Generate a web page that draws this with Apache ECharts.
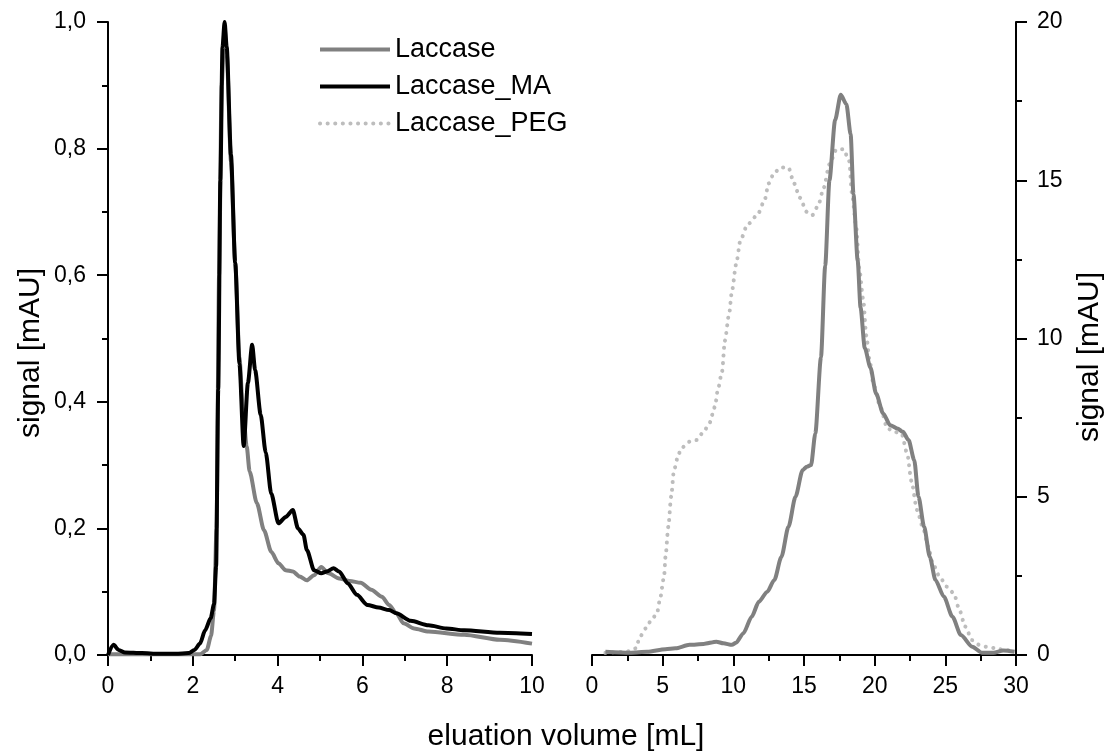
<!DOCTYPE html>
<html>
<head>
<meta charset="utf-8">
<script src="https://cdn.jsdelivr.net/npm/echarts@6/dist/echarts.min.js"></script>
<style>
html,body{margin:0;padding:0;background:#fff;}
#chart{width:1113px;height:755px;}
</style>
</head>
<body>
<div id="chart"></div>
<script>
// ---- Left panel (x: 0-10 mL, y: 0-1.0 mAU) ----
const laccaseLeftX = [0.0, 0.5, 1.0, 1.5, 2.0, 2.17, 2.33, 2.43, 2.5, 2.56, 2.62, 2.68, 2.75, 2.8, 2.9, 3.0, 3.1, 3.18, 3.27, 3.34, 3.51, 3.68, 3.85, 4.02, 4.19, 4.36, 4.52, 4.69, 4.86, 5.03, 5.2, 5.45, 5.7, 5.96, 6.21, 6.46, 6.63, 6.8, 6.97, 7.22, 7.56, 8.4, 9.24, 10];
const laccaseLeftY = [0.001, 0.001, 0.001, 0.001, 0.001, 0.001, 0.008, 0.03, 0.07, 0.2, 0.6, 0.9, 0.99, 0.95, 0.78, 0.62, 0.47, 0.39, 0.33, 0.29, 0.24, 0.197, 0.163, 0.145, 0.134, 0.132, 0.124, 0.118, 0.126, 0.139, 0.129, 0.121, 0.117, 0.114, 0.103, 0.092, 0.079, 0.066, 0.05, 0.042, 0.037, 0.032, 0.024, 0.018];

const laccaseMAX = [0.0, 0.13, 0.25, 0.4, 0.8, 1.2, 1.6, 1.9, 2.04, 2.17, 2.29, 2.42, 2.5, 2.55, 2.6, 2.65, 2.7, 2.75, 2.8, 2.9, 3.0, 3.1, 3.2, 3.3, 3.4, 3.47, 3.6, 3.72, 3.85, 4.02, 4.19, 4.36, 4.48, 4.61, 4.69, 4.86, 5.03, 5.16, 5.32, 5.45, 5.66, 5.87, 6.12, 6.38, 6.63, 6.8, 7.14, 7.56, 7.98, 8.4, 9.24, 10];
const laccaseMAY = [0.0, 0.016, 0.008, 0.004, 0.003, 0.002, 0.002, 0.003, 0.008, 0.018, 0.039, 0.058, 0.08, 0.14, 0.42, 0.75, 0.96, 1.0, 0.96, 0.79, 0.62, 0.46, 0.33, 0.43, 0.49, 0.45, 0.38, 0.32, 0.255, 0.208, 0.218, 0.229, 0.2, 0.19, 0.166, 0.134, 0.129, 0.132, 0.137, 0.132, 0.113, 0.095, 0.079, 0.075, 0.071, 0.066, 0.054, 0.047, 0.042, 0.039, 0.035, 0.033];

// ---- Right panel (x: 0-30 mL, y: 0-20 mAU) ----
const laccaseRightX = [0.95, 2.7, 3.9, 5.2, 5.9, 6.9, 7.9, 8.8, 9.3, 9.9, 10.2, 10.7, 11.3, 11.8, 12.4, 12.9, 13.4, 13.9, 14.4, 14.9, 15.2, 15.5, 15.8, 16.2, 16.5, 16.8, 17.2, 17.6, 18.0, 18.3, 18.5, 18.8, 19.0, 19.3, 19.7, 20.1, 20.6, 21.1, 21.6, 22.0, 22.4, 22.8, 23.1, 23.5, 23.9, 24.3, 24.9, 25.5, 26.1, 26.9, 27.6, 28.4, 29.1, 29.9];
const laccaseRightY = [0.1, 0.07, 0.1, 0.18, 0.21, 0.32, 0.35, 0.42, 0.37, 0.32, 0.39, 0.68, 1.21, 1.68, 2.0, 2.37, 3.1, 4.05, 5.0, 5.84, 5.95, 6.0, 7.0, 9.4, 12.3, 15.0, 16.9, 17.7, 17.4, 16.45, 14.56, 12.45, 10.98, 9.7, 9.08, 8.26, 7.63, 7.26, 7.16, 7.05, 6.79, 6.16, 5.0, 4.05, 3.1, 2.37, 1.84, 1.21, 0.63, 0.26, 0.07, 0.07, 0.14, 0.1];

const laccasePEGX = [0.95, 2.4, 3.1, 3.4, 3.8, 4.2, 4.6, 4.8, 5.1, 5.2, 5.4, 5.6, 5.8, 6.1, 6.3, 6.9, 7.4, 7.9, 8.3, 8.7, 8.9, 9.2, 9.4, 9.7, 9.9, 10.2, 10.5, 11.0, 11.7, 12.2, 12.5, 12.9, 13.4, 13.9, 14.3, 14.7, 15.2, 15.6, 16.0, 16.4, 16.8, 17.3, 17.8, 18.2, 18.4, 18.7, 18.9, 19.2, 19.4, 19.65, 19.9, 20.4, 20.9, 21.4, 21.9, 22.3, 22.6, 23.0, 23.4, 23.8, 24.1, 24.6, 25.1, 25.6, 26.0, 26.4, 26.9, 27.4, 27.9, 28.6, 29.1, 29.9];
const laccasePEGY = [0.07, 0.1, 0.21, 0.58, 0.84, 1.1, 1.32, 1.74, 2.47, 3.1, 4.05, 5.0, 5.84, 6.3, 6.53, 6.74, 6.79, 7.05, 7.32, 7.84, 8.37, 8.95, 9.93, 10.77, 11.5, 12.35, 13.1, 13.6, 13.9, 14.35, 14.9, 15.25, 15.4, 15.4, 14.9, 14.45, 14.0, 13.9, 14.2, 14.77, 15.5, 15.98, 15.98, 15.6, 14.56, 13.5, 12.24, 11.2, 10.1, 9.3, 8.58, 7.84, 7.16, 7.05, 7.0, 6.37, 5.5, 4.58, 4.05, 3.42, 2.9, 2.47, 2.16, 1.95, 1.42, 0.9, 0.47, 0.32, 0.26, 0.21, 0.16, 0.14];

// ---- Texts ----
const seriesNames = ['Laccase', 'Laccase_MA', 'Laccase_PEG'];
const xTitle = 'eluation volume [mL]';
const yTitle = 'signal [mAU]';

const FONT = 'Liberation Sans, Arial, Helvetica, sans-serif';
const zip = (xs, ys) => xs.map((x, i) => [x, ys[i]]);

function axisCommon() {
  return {
    axisLine: { show: true, onZero: false, lineStyle: { color: '#000', width: 2 } },
    axisTick: { show: true, inside: false, length: 11, lineStyle: { color: '#000', width: 2 } },
    minorTick: { show: true, splitNumber: 2, length: 6, lineStyle: { color: '#000', width: 2 } },
    splitLine: { show: false },
    minorSplitLine: { show: false }
  };
}

const chart = echarts.init(document.getElementById('chart'), null, { renderer: 'canvas' });

const option = {
  backgroundColor: '#fff',
  animation: false,
  textStyle: { fontFamily: FONT },
  grid: [
    { left: 108, top: 22, width: 424, height: 633 },
    { left: 592, top: 22, width: 424, height: 633 }
  ],
  legend: {
    data: seriesNames,
    orient: 'vertical',
    left: 318,
    top: 36,
    padding: 0,
    itemWidth: 70,
    itemHeight: 14,
    itemGap: 10,
    itemStyle: { opacity: 0, borderWidth: 0 },
    lineStyle: { width: 4 },
    textStyle: { fontSize: 27, color: '#000', fontFamily: FONT }
  },
  xAxis: [
    Object.assign(axisCommon(), {
      type: 'value', gridIndex: 0, min: 0, max: 10, interval: 2,
      axisLabel: { color: '#000', fontSize: 23, fontFamily: FONT, margin: 20 }
    }),
    Object.assign(axisCommon(), {
      type: 'value', gridIndex: 1, min: 0, max: 30, interval: 5,
      axisLabel: { color: '#000', fontSize: 23, fontFamily: FONT, margin: 20 }
    })
  ],
  yAxis: [
    Object.assign(axisCommon(), {
      type: 'value', gridIndex: 0, min: 0, max: 1, interval: 0.2, position: 'left',
      axisLabel: { color: '#000', fontSize: 23, fontFamily: FONT, margin: 22,
        formatter: v => v.toFixed(1).replace('.', ',') }
    }),
    Object.assign(axisCommon(), {
      type: 'value', gridIndex: 1, min: 0, max: 20, interval: 5, position: 'right',
      axisLabel: { color: '#000', fontSize: 23, fontFamily: FONT, margin: 21 }
    })
  ],
  graphic: [
    {
      type: 'text', x: 566, y: 737,
      style: { text: xTitle, fontSize: 30, fontFamily: FONT, fill: '#000',
        textAlign: 'center', textVerticalAlign: 'middle' }
    },
    {
      type: 'text', x: 31, y: 353, rotation: Math.PI / 2,
      style: { text: yTitle, fontSize: 30, fontFamily: FONT, fill: '#000',
        textAlign: 'center', textVerticalAlign: 'middle' }
    },
    {
      type: 'text', x: 1090, y: 357, rotation: Math.PI / 2,
      style: { text: yTitle, fontSize: 30, fontFamily: FONT, fill: '#000',
        textAlign: 'center', textVerticalAlign: 'middle' }
    }
  ],
  series: [
    {
      name: 'Laccase', type: 'line', xAxisIndex: 0, yAxisIndex: 0,
      data: zip(laccaseLeftX, laccaseLeftY), showSymbol: false, symbol: 'none',
      smooth: 0.25, smoothMonotone: 'x',
      lineStyle: { color: '#808080', width: 4 }, itemStyle: { color: '#808080' }, z: 2
    },
    {
      name: 'Laccase_MA', type: 'line', xAxisIndex: 0, yAxisIndex: 0,
      data: zip(laccaseMAX, laccaseMAY), showSymbol: false, symbol: 'none',
      smooth: 0.25, smoothMonotone: 'x',
      lineStyle: { color: '#000', width: 4 }, itemStyle: { color: '#000' }, z: 3
    },
    {
      name: 'Laccase_PEG', type: 'line', xAxisIndex: 1, yAxisIndex: 1,
      data: zip(laccasePEGX, laccasePEGY), showSymbol: false, symbol: 'none',
      smooth: 0.25, smoothMonotone: 'x',
      lineStyle: { color: '#bdbdbd', width: 4, type: [0.1, 7.5], cap: 'round' },
      itemStyle: { color: '#bdbdbd' }, z: 2
    },
    {
      name: 'Laccase', type: 'line', xAxisIndex: 1, yAxisIndex: 1,
      data: zip(laccaseRightX, laccaseRightY), showSymbol: false, symbol: 'none',
      smooth: 0.25, smoothMonotone: 'x',
      lineStyle: { color: '#808080', width: 4 }, itemStyle: { color: '#808080' }, z: 3
    }
  ]
};

chart.setOption(option);
</script>
</body>
</html>
